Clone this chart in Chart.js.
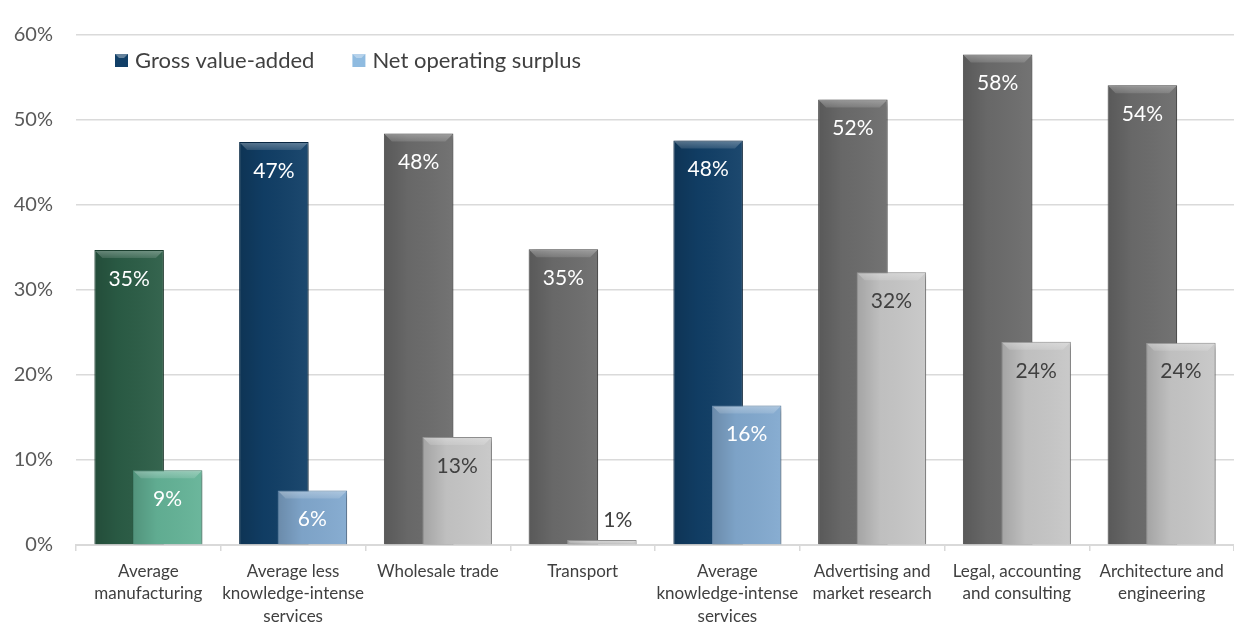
<!DOCTYPE html>
<html>
<head>
<meta charset="utf-8">
<script src="https://cdn.jsdelivr.net/npm/chart.js@4/dist/chart.umd.min.js"></script>
<style>
  html, body { margin: 0; padding: 0; background: #fff; }
  #wrap { width: 1234px; height: 624px; }
</style>
</head>
<body>
<div id="wrap"><canvas id="myChart" width="1234" height="624"></canvas></div>
<script>
// data
var categories = [
  ['Average', 'manufacturing'],
  ['Average less', 'knowledge-intense', 'services'],
  'Wholesale trade',
  'Transport',
  ['Average', 'knowledge-intense', 'services'],
  ['Advertising and', 'market research'],
  ['Legal, accounting', 'and consulting'],
  ['Architecture and', 'engineering']
]
var grossValueAdded = [34.7, 47.4, 48.4, 34.8, 47.6, 52.4, 57.7, 54.1]
var netOperatingSurplus = [8.8, 6.4, 12.7, 0.6, 16.4, 32.1, 23.9, 23.8]
var yTicks = [0, 10, 20, 30, 40, 50, 60]
var seriesNames = ['Gross value-added', 'Net operating surplus']

// colour group for each category
var groupOf = ['green', 'blue', 'grey', 'grey', 'blue', 'grey', 'grey', 'grey']
var palette = {
  green: { dark: '#2b5d46', darkEdge: '#1d4332', light: '#64b397', lightEdge: '#4f8f78', lightText: '#ffffff' },
  blue:  { dark: '#113f67', darkEdge: '#0a2b48', light: '#82a9cf', lightEdge: '#6a8db0', lightText: '#ffffff' },
  grey:  { dark: '#6c6c6c', darkEdge: '#4e4e4e', light: '#c7c7c7', lightEdge: '#9a9a9a', lightText: '#404040' }
}
var FONT = 'Lato, "Open Sans", sans-serif'

function col(key) {
  return groupOf.map(function(g){ return palette[g][key] })
}

var lateDraw = false

function bevel(ctx, meta) {
  meta.data.forEach(function(bar){
    var p = bar.getProps(['x', 'y', 'base', 'width'], true)
    var l = p.x - p.width / 2, r = p.x + p.width / 2
    var h = p.base - p.y
    if (h < 3) return
    var b = Math.min(7, h / 2)
    ctx.save()
    // left-to-right shading
    var g = ctx.createLinearGradient(l, 0, r, 0)
    g.addColorStop(0, 'rgba(0,0,0,0.18)')
    g.addColorStop(0.35, 'rgba(0,0,0,0.04)')
    g.addColorStop(1, 'rgba(255,255,255,0.05)')
    ctx.fillStyle = g
    ctx.fillRect(l + 1, p.y + 1, p.width - 2, h - 1)
    // top bevel
    var tg = ctx.createLinearGradient(0, p.y, 0, p.y + b + 1)
    tg.addColorStop(0, 'rgba(255,255,255,0.32)')
    tg.addColorStop(1, 'rgba(255,255,255,0.12)')
    ctx.beginPath()
    ctx.moveTo(l + 1, p.y + 1)
    ctx.lineTo(r - 1, p.y + 1)
    ctx.lineTo(r - 1 - b, p.y + 1 + b)
    ctx.lineTo(l + 1 + b, p.y + 1 + b)
    ctx.closePath()
    ctx.fillStyle = tg
    ctx.fill()
    ctx.restore()
  })
}

var barLook = {
  id: 'barLook',
  beforeDatasetDraw: function(chart, args) {
    if (args.index === 1 && !lateDraw) return false
    var ctx = chart.ctx
    ctx.shadowColor = 'rgba(0,0,0,0.35)'
    ctx.shadowBlur = 6
    ctx.shadowOffsetX = 3
    ctx.shadowOffsetY = 2
  },
  afterDatasetDraw: function(chart, args) {
    var ctx = chart.ctx
    ctx.shadowColor = 'rgba(0,0,0,0)'
    ctx.shadowBlur = 0
    ctx.shadowOffsetX = 0
    ctx.shadowOffsetY = 0
    bevel(ctx, args.meta)
  },
  afterDatasetsDraw: function(chart) {
    // net operating surplus goes over the gross bars
    lateDraw = true
    chart._drawDataset(chart.getDatasetMeta(1))
    lateDraw = false

    var ctx = chart.ctx
    ctx.save()
    ctx.font = '21px ' + FONT
    ctx.textAlign = 'center'
    ctx.textBaseline = 'middle'
    ;[0, 1].forEach(function(di){
      var meta = chart.getDatasetMeta(di)
      var values = chart.data.datasets[di].data
      meta.data.forEach(function(bar, i){
        var p = bar.getProps(['x', 'y', 'base'], true)
        var txt = Math.round(values[i]) + '%'
        if (p.base - p.y > 40) {
          ctx.fillStyle = di === 0 ? '#ffffff' : palette[groupOf[i]].lightText
          ctx.fillText(txt, p.x, p.y + 29)
        } else {
          ctx.fillStyle = '#404040'
          ctx.fillText(txt, p.x + 16, p.y - 20)
        }
      })
    })
    ctx.restore()
  },
  afterDraw: function(chart) {
    // legend inside the plot, top left
    var ctx = chart.ctx
    var boxes = [palette.blue.dark, '#8fbbe0']
    var x = 115, y = 60
    ctx.save()
    ctx.font = '22px ' + FONT
    ctx.textBaseline = 'middle'
    seriesNames.forEach(function(name, i){
      ctx.fillStyle = boxes[i]
      ctx.fillRect(x, y - 6, 13, 13)
      ctx.fillStyle = 'rgba(255,255,255,0.35)'
      ctx.beginPath()
      ctx.moveTo(x, y - 6); ctx.lineTo(x + 13, y - 6); ctx.lineTo(x + 9, y - 2); ctx.lineTo(x + 4, y - 2)
      ctx.closePath(); ctx.fill()
      ctx.fillStyle = '#404040'
      ctx.fillText(name, x + 20, y + 1)
      x += 20 + ctx.measureText(name).width + 38
    })
    ctx.restore()
  }
}

var ctx = document.getElementById('myChart')

new Chart(ctx, {
  type: 'bar',
  data: {
    labels: categories,
    datasets: [{
      label: seriesNames[0],
      data: grossValueAdded,
      backgroundColor: col('dark'),
      borderColor: col('darkEdge'),
      borderWidth: 1,
      categoryPercentage: 0.532,
      barPercentage: 1.805
    }, {
      label: seriesNames[1],
      data: netOperatingSurplus,
      backgroundColor: col('light'),
      borderColor: col('lightEdge'),
      borderWidth: 1,
      categoryPercentage: 0.532,
      barPercentage: 1.805
    }]
  },
  options: {
    responsive: false,
    animation: false,
    devicePixelRatio: 1,
    layout: { padding: { top: 32, right: 0, bottom: 0, left: 0 } },
    plugins: {
      legend: { display: false },
      tooltip: { enabled: false }
    },
    scales: {
      x: {
        afterFit: function(scale){ scale.height = 79 },
        grid: { drawOnChartArea: false, drawTicks: true, tickLength: 6, color: '#d9d9d9', lineWidth: 1.5 },
        border: { display: true, color: '#d9d9d9', width: 2 },
        ticks: { color: '#404040', padding: 9, maxRotation: 0, autoSkip: false, font: { family: FONT, size: 17, lineHeight: 1.33 } }
      },
      y: {
        min: yTicks[0],
        max: yTicks[yTicks.length - 1],
        afterFit: function(scale){ scale.width = 76 },
        afterBuildTicks: function(scale){ scale.ticks = yTicks.map(function(v){ return { value: v } }) },
        grid: { drawTicks: false, color: '#dadada', lineWidth: 1.5 },
        border: { display: false },
        ticks: {
          color: '#595959', padding: 23,
          font: { family: FONT, size: 20 },
          callback: function(v){ return v + '%' }
        }
      }
    }
  },
  plugins: [barLook]
})
</script>
</body>
</html>
